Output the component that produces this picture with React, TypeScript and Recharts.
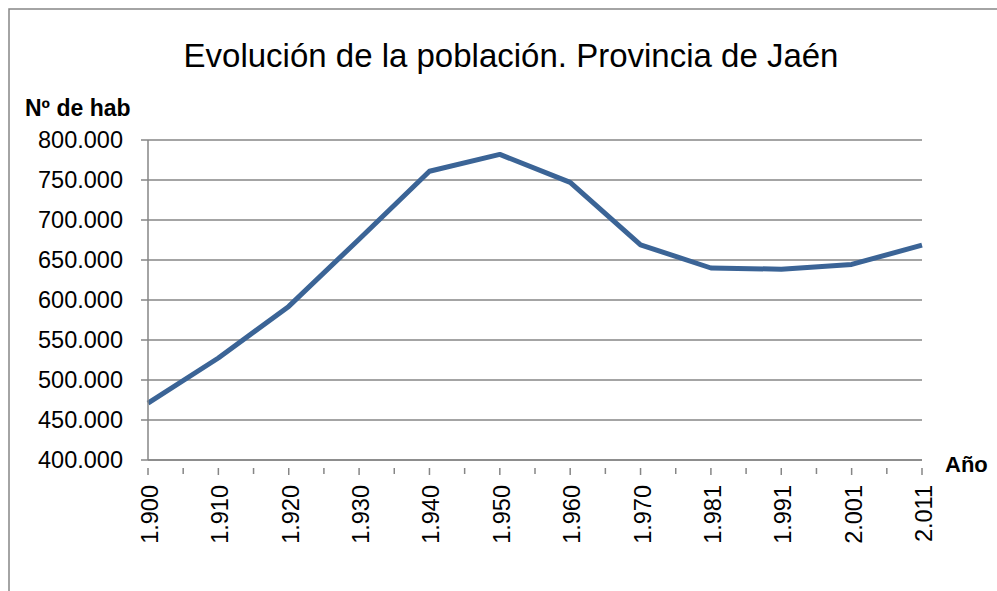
import React from 'react';
import { LineChart, Line, XAxis, YAxis, CartesianGrid } from 'recharts';

// años del censo
const years = [1900, 1910, 1920, 1930, 1940, 1950, 1960, 1970, 1981, 1991, 2001, 2011];
// habitantes
const population = [471000, 527500, 592000, 676000, 761000, 782000, 747000, 669000, 640000, 638500, 644500, 668500];
const yTicks = [400000, 450000, 500000, 550000, 600000, 650000, 700000, 750000, 800000];

const data = years.map((y, i) => ({ year: y, hab: population[i] }));

const W = 997;
const H = 591;
const GRID = '#868686';
const LINE = '#3B6496';
const FONT = '"Liberation Sans", Arial, sans-serif';

const fmt = (n: number) => String(n).replace(/\B(?=(\d{3})+(?!\d))/g, '.');

const XTick = (props: any) => {
  const { x, y, payload, index } = props;
  const step = (922 - 148) / (years.length - 1);
  return (
    <g>
      <line x1={x} y1={y} x2={x} y2={y + 7} stroke={GRID} strokeWidth={1.5} />
      {index > 0 && (
        <line x1={x - step / 2} y1={y} x2={x - step / 2} y2={y + 6} stroke={GRID} strokeWidth={1.5} />
      )}
      <text
        transform={`translate(${x}, ${y + 17}) rotate(-90)`}
        x={0}
        y={10}
        textAnchor="end"
        fontSize={23.5}
        fontFamily={FONT}
        fill="#000"
      >
        {fmt(payload.value)}
      </text>
    </g>
  );
};

export default function App() {
  return (
    <div style={{ position: 'absolute', left: 0, top: 0, width: W, height: H, background: '#fff', overflow: 'hidden' }}>
      <LineChart
        width={W}
        height={H}
        data={data}
        margin={{ top: 140, right: 75, bottom: 31, left: 0 }}
      >
        <CartesianGrid vertical={false} stroke={GRID} strokeWidth={1.5} />
        <XAxis
          dataKey="year"
          height={100}
          interval={0}
          stroke={GRID}
          strokeWidth={1.5}
          tickLine={false}
          tick={<XTick />}
        />
        <YAxis
          width={148}
          domain={[400000, 800000]}
          ticks={yTicks}
          interval={0}
          stroke={GRID}
          strokeWidth={1.5}
          tickSize={7}
          tickMargin={18}
          tickFormatter={fmt}
          tick={{ fill: '#000', fontSize: 23.5, fontFamily: FONT }}
        />
        <Line
          type="linear"
          dataKey="hab"
          stroke={LINE}
          strokeWidth={5}
          strokeLinejoin="round"
          dot={false}
          isAnimationActive={false}
        />
      </LineChart>
      <svg
        width={W}
        height={H}
        style={{ position: 'absolute', left: 0, top: 0, pointerEvents: 'none' }}
      >
        <polyline points={`9,${H} 9,9 ${W},9`} fill="none" stroke={GRID} strokeWidth={1.5} />
        <text x={511} y={67} textAnchor="middle" fontSize={33} fontFamily={FONT} fill="#000">
          Evolución de la población. Provincia de Jaén
        </text>
        <text x={25} y={116} fontSize={23} fontWeight="bold" fontFamily={FONT} fill="#000">
          Nº de hab
        </text>
        <text x={945} y={472} fontSize={22} fontWeight="bold" fontFamily={FONT} fill="#000">
          Año
        </text>
      </svg>
    </div>
  );
}
